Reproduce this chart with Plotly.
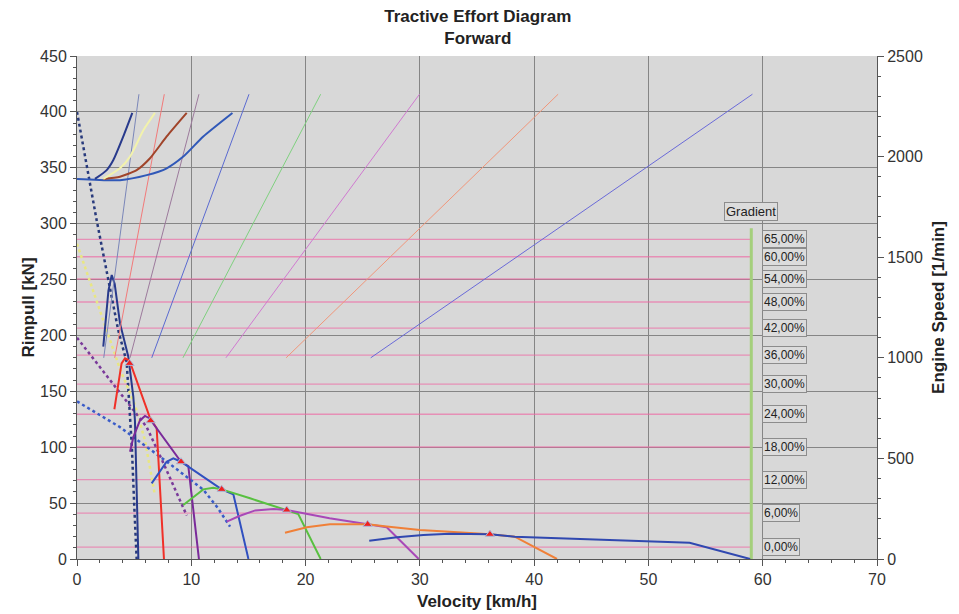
import plotly.graph_objects as go

# ---------------- data ----------------
# Engine speed lines per gear (right axis, 1/min): velocity at low / high engine speed
gear_v_low = [2.34, 3.30, 4.64, 6.54, 9.27, 13.03, 18.3, 25.7]
gear_v_high = [5.42, 7.64, 10.67, 15.05, 21.32, 29.97, 42.1, 59.1]
gear_rpm = [1000, 2310]
gear_line_colors = ["#7a86b8", "#f27a7a", "#9c7a9c", "#5a6ad0",
                    "#7fd07f", "#d07ad0", "#f0967a", "#6a6ad8"]

# Gradient resistance lines
grad_labels = ["0,00%", "6,00%", "12,00%", "18,00%", "24,00%", "30,00%",
               "36,00%", "42,00%", "48,00%", "54,00%", "60,00%", "65,00%"]
grad_force = [10.6, 41.1, 71.0, 100.2, 129.5, 156.4, 182.4, 206.5, 229.9, 250.5, 270.4, 285.9]
grad_v_start = 0
grad_v_end = 59.0
grad_bar_top = 296

# Rimpull curves per gear (solid)
g1_v = [2.3, 2.75, 3.04, 3.3, 3.76, 4.49, 4.93, 5.07, 5.22, 5.37]
g1_f = [190, 240, 254, 246, 211, 181, 145, 124, 62, 0]
g2_v = [3.27, 3.9, 4.2, 4.5, 4.78, 6.39, 6.97, 7.61]
g2_f = [134, 175, 179.5, 178, 172, 126, 117, 0]
g3_v = [4.64, 4.93, 5.51, 5.95, 6.33, 9.1, 9.74, 10.67]
g3_f = [96, 109, 124, 128, 126, 87, 83, 0]
g4_v = [6.53, 7.84, 8.43, 9.1, 12.66, 13.68, 15.0]
g4_f = [67.7, 87, 90, 87, 62.3, 57.9, 0]
g5_v = [9.3, 11.05, 11.92, 12.66, 15.14, 18.35, 19.36, 21.32]
g5_f = [48.3, 62.3, 63.8, 62.3, 54.3, 43.8, 40.3, 0]
g6_v = [13.1, 14.2, 15.6, 17.2, 18.35, 22.1, 25.43, 27.1, 29.9]
g6_f = [33.4, 38.5, 43.5, 44.7, 43.8, 36.4, 31, 28.4, 0]
g7_v = [18.2, 20.1, 22.13, 25.43, 27.1, 30.0, 32.6, 36.13, 38.3, 42.0]
g7_f = [23.5, 28.4, 31, 31, 29, 26, 24.4, 22.1, 20, 0]
g8_v = [25.57, 28.0, 30.3, 32.6, 36.13, 38.3, 53.6, 58.9]
g8_f = [16.4, 19.4, 21.5, 22.6, 22.1, 20, 14.6, 0]
solid_colors = ["#283a8c", "#f03028", "#7a2a9a", "#3050c0",
                "#58c040", "#a848b8", "#f08038", "#3048b0"]

# Dashed rimpull curves
d1_v = [0, 1.72, 3.6, 4.35, 4.55, 4.8, 5.0, 5.22]
d1_f = [400, 303, 205, 176, 142, 100, 50, 0]
d2_v = [0, 2.6, 3.76, 5.07, 5.95, 6.82]
d2_f = [282, 205, 170, 138, 106, 57]
d3_v = [0, 4.4, 6.1, 7.55, 8.6, 9.6]
d3_f = [198, 141, 118, 86, 62, 39]
d4_v = [0, 3.76, 5.07, 8.0, 11.05, 12.3, 13.39]
d4_f = [141, 118, 108, 86, 62, 46, 29]
dashed_colors = ["#283a7c", "#e8e682", "#7a3a9a", "#3a5cc8"]

# Upper curves (engine speed, right axis, 1/min)
u1_v = [1.57, 2.6, 3.18, 4.05, 4.84]
u1_n = [1889, 1933, 1983, 2100, 2217]
u2_v = [2.3, 3.76, 4.64, 5.83, 6.82]
u2_n = [1889, 1942, 2000, 2133, 2217]
u3_v = [2.3, 3.76, 5.22, 6.39, 7.85, 9.6]
u3_n = [1889, 1900, 1933, 1992, 2100, 2217]
u4_v = [0, 3.76, 6.1, 7.85, 9.3, 11.05, 13.6]
u4_n = [1889, 1883, 1908, 1942, 2000, 2100, 2217]
upper_colors = ["#283a8c", "#f2f2ac", "#a0442a", "#3058b8"]

# Shift points
shift_v = [4.6, 6.44, 9.1, 12.66, 18.35, 25.43, 36.13]
shift_f = [175, 123.7, 87, 62.3, 43.8, 31, 22.1]

# ---------------- figure ----------------
fig = go.Figure()

# gradient lines
gx, gy = [], []
for f in grad_force:
    gx += [grad_v_start, grad_v_end, None]
    gy += [f, f, None]
fig.add_trace(go.Scatter(x=gx, y=gy, mode="lines",
                         line=dict(color="rgba(238,105,165,0.65)", width=1.3),
                         hoverinfo="skip"))
fig.add_trace(go.Scatter(x=[grad_v_end, grad_v_end], y=[0, grad_bar_top], mode="lines",
                         line=dict(color="#a4cf7c", width=3), hoverinfo="skip"))

# engine speed lines
for vl, vh, c in zip(gear_v_low, gear_v_high, gear_line_colors):
    fig.add_trace(go.Scatter(x=[vl, vh], y=gear_rpm, mode="lines", yaxis="y2",
                             line=dict(color=c, width=1)))

# upper curves
for vx, ny, c in zip([u1_v, u2_v, u3_v, u4_v][::-1], [u1_n, u2_n, u3_n, u4_n][::-1], upper_colors[::-1]):
    fig.add_trace(go.Scatter(x=vx, y=ny, mode="lines", yaxis="y2",
                             line=dict(color=c, width=2, shape="spline", smoothing=0.6)))

# dashed curves
for vx, fy, c in zip([d1_v, d2_v, d3_v, d4_v], [d1_f, d2_f, d3_f, d4_f], dashed_colors):
    fig.add_trace(go.Scatter(x=vx, y=fy, mode="lines",
                             line=dict(color=c, width=2.5, dash="dot")))

# solid curves
solids = [(g1_v, g1_f), (g2_v, g2_f), (g3_v, g3_f), (g4_v, g4_f),
          (g5_v, g5_f), (g6_v, g6_f), (g7_v, g7_f), (g8_v, g8_f)]
for (vx, fy), c in zip(solids, solid_colors):
    fig.add_trace(go.Scatter(x=vx, y=fy, mode="lines", line=dict(color=c, width=2)))

# shift points
fig.add_trace(go.Scatter(x=shift_v, y=shift_f, mode="markers",
                         marker=dict(symbol="triangle-up", size=8, color="#f02020",
                                     line=dict(color="#a8b8d8", width=1))))

# annotations: gradient labels
annots = []
for lab, f in zip(grad_labels, grad_force):
    annots.append(dict(x=59.95, y=f, xref="x", yref="y", text=lab, showarrow=False,
                       xanchor="left", yanchor="middle",
                       font=dict(size=12, color="#222"),
                       bgcolor="#dcdcdc", bordercolor="#8c8c8c", borderwidth=1, borderpad=1))
annots.append(dict(x=grad_v_end, y=311, xref="x", yref="y", text="Gradient", showarrow=False,
                   xanchor="center", yanchor="middle", font=dict(size=13, color="#222"),
                   bgcolor="#dcdcdc", bordercolor="#8c8c8c", borderwidth=1, borderpad=1))

grid_c = "#858585"
tickfont = dict(size=16, color="#333")
W, H = 951, 606  # page body has an 8px margin inside the 959x614 window
fig.update_layout(
    width=W, height=H,
    margin=dict(l=69, r=82, t=48, b=55, autoexpand=False),
    paper_bgcolor="white", plot_bgcolor="#d8d8d8",
    showlegend=False,
    font=dict(family="Liberation Sans, Arial, sans-serif", color="#222"),
    title=dict(text="<b>Tractive Effort Diagram<br>Forward</b>", x=0.494, xanchor="center",
               y=1 - 14 / H, yanchor="middle", yref="container", automargin=False,
               font=dict(size=17, color="#222")),
    xaxis=dict(range=[0, 70], dtick=10, showgrid=True, gridcolor=grid_c, gridwidth=1,
               zeroline=False, showline=True, linecolor="#555", linewidth=1, automargin=False,
               ticks="outside", ticklen=6, tickcolor="#555", tickfont=tickfont,
               minor=dict(dtick=2, ticks="outside", ticklen=3, tickcolor="#555", showgrid=False),
               title=dict(text="<b>Velocity [km/h]</b>", font=dict(size=17), standoff=7)),
    yaxis=dict(range=[0, 450], dtick=50, showgrid=True, gridcolor=grid_c, gridwidth=1,
               zeroline=False, showline=True, linecolor="#555", linewidth=1, automargin=False,
               ticks="outside", ticklen=6, tickcolor="#555", tickfont=tickfont,
               minor=dict(dtick=10, ticks="outside", ticklen=3, tickcolor="#555", showgrid=False),
               title=dict(text="<b>Rimpull [kN]</b>", font=dict(size=17), standoff=1)),
    yaxis2=dict(range=[0, 2500], dtick=500, overlaying="y", side="right", showgrid=False,
                zeroline=False, showline=True, linecolor="#555", linewidth=1, automargin=False,
                ticks="outside", ticklen=6, tickcolor="#555", tickfont=tickfont,
                minor=dict(dtick=100, ticks="outside", ticklen=3, tickcolor="#555"),
                title=dict(text="<b>Engine Speed [1/min]</b>", font=dict(size=17), standoff=10)),
    annotations=annots,
)

fig.write_html("out.html")
